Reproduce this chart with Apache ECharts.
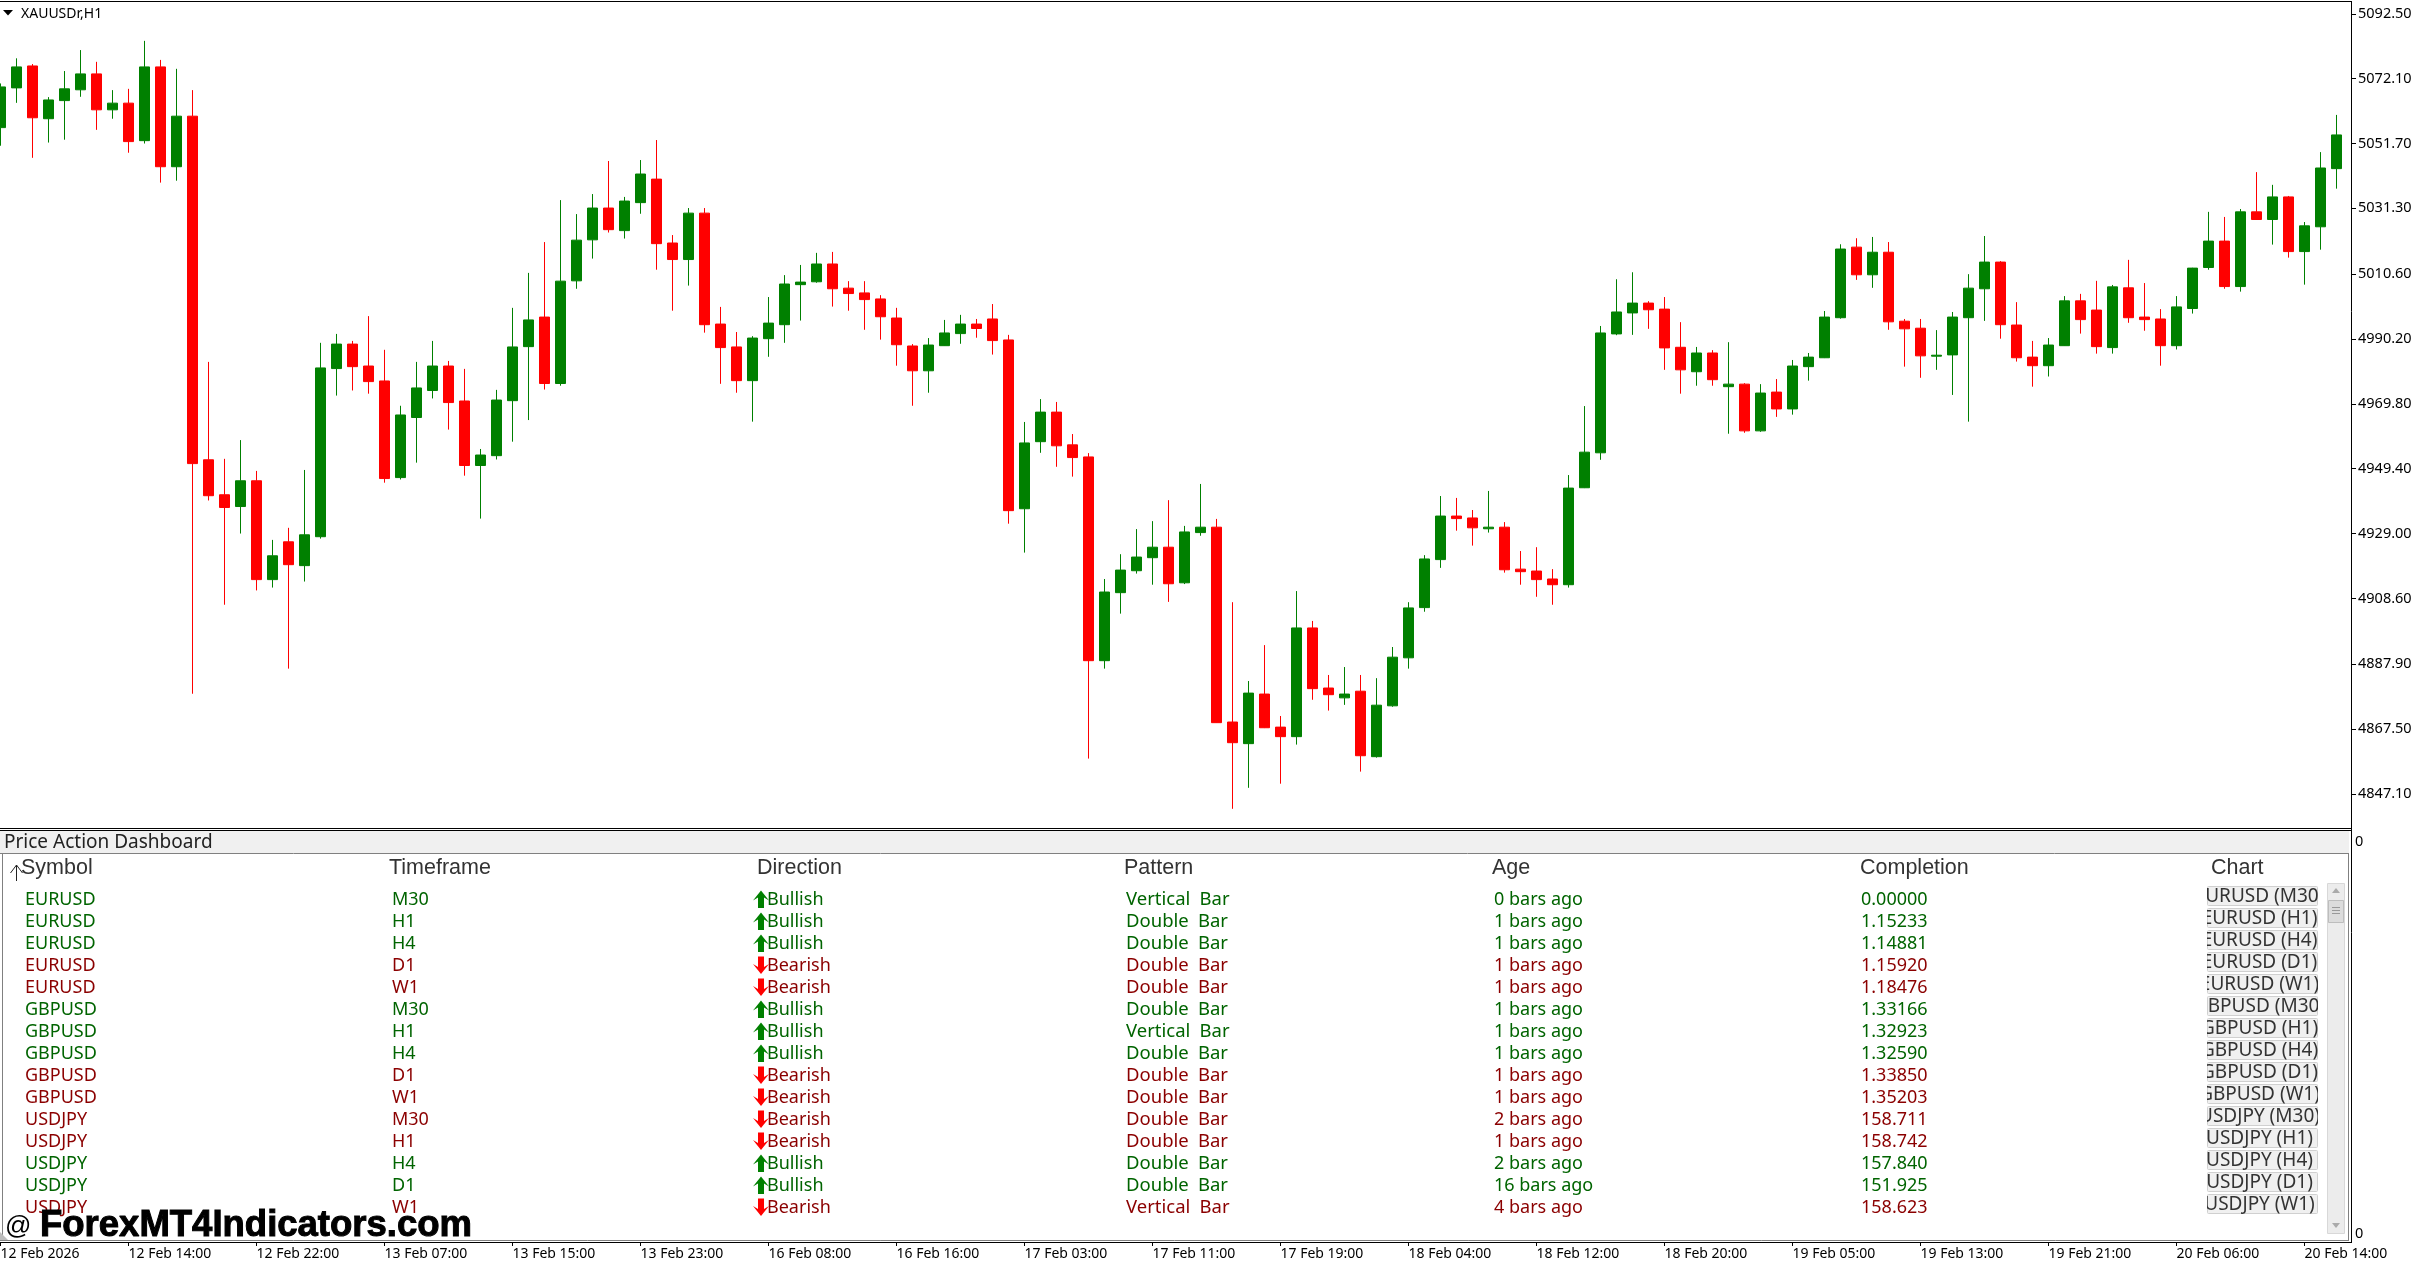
<!DOCTYPE html>
<html>
<head>
<meta charset="utf-8">
<title>XAUUSDr,H1</title>
<script src="https://cdn.jsdelivr.net/npm/echarts@6/dist/echarts.min.js"></script>
<style>html,body{margin:0;padding:0;background:#fff}#chart{width:2414px;height:1266px}</style>
</head>
<body>
<div id="chart"></div>
<script>
// XAUUSD hourly prices
const opens = [
5056.7,5069.2,5076.1,5059.5,5065.2,5068.6,5073.6,5062.3,5064.4,5052.6,
5075.8,5044.4,5060.3,4952.2,4941.2,4937.5,4945.6,4914.5,4926.4,4918.9,
4928.0,4980.9,4988.6,4981.7,4977.0,4946.6,4965.5,4974.0,4981.7,4970.7,
4950.4,4953.5,4970.8,4987.8,4997.1,4976.2,5008.5,5021.4,5031.4,5024.3,
5033.1,5040.5,5020.4,5015.2,5029.8,4994.9,4987.7,4977.1,4990.3,4994.7,
5007.3,5008.2,5013.8,5006.2,5004.7,5002.8,4996.8,4988.0,4980.2,4988.1,
4991.9,4994.9,4996.5,4989.9,4936.8,4957.9,4967.2,4956.9,4953.1,4889.0,
4910.4,4917.3,4921.4,4924.7,4913.5,4929.3,4931.0,4869.7,4862.9,4878.5,
4868.1,4865.1,4899.3,4880.4,4877.3,4879.4,4858.8,4874.8,4889.9,4905.7,
4920.8,4934.5,4933.9,4930.5,4931.0,4917.8,4917.2,4914.7,4912.9,4943.4,
4954.4,4991.8,4998.4,5001.5,4999.6,4987.6,4979.9,4985.8,4975.2,4976.0,
4961.3,4973.5,4968.2,4981.5,4984.3,4996.9,5019.1,5010.4,5017.5,4995.8,
4993.6,4984.8,4985.2,4996.9,5006.0,5014.4,4994.6,4984.5,4981.8,4988.1,
5002.2,4999.3,4987.5,5006.3,4997.1,4996.5,4988.1,4999.8,5012.7,5021.0,
5006.7,5030.2,5027.8,5034.9,5017.7,5025.5,5043.8];
const closes = [
5069.5,5075.8,5059.8,5065.4,5068.9,5073.6,5062.3,5064.4,5052.3,5075.8,
5044.4,5060.3,4951.0,4940.9,4937.2,4945.6,4914.5,4922.0,4919.2,4928.6,
4981.1,4988.6,4981.5,4976.8,4946.3,4966.3,4974.8,4981.7,4970.2,4950.4,
4953.7,4971.0,4987.7,4996.2,4976.2,5008.4,5021.3,5031.4,5024.6,5033.6,
5042.1,5020.2,5015.2,5029.8,4994.7,4987.5,4977.1,4990.5,4995.2,5007.5,
5008.1,5013.8,5006.0,5004.5,5002.6,4997.2,4988.4,4980.2,4988.3,4992.1,
4994.9,4993.5,4989.7,4936.2,4957.5,4967.2,4956.6,4952.9,4889.0,4910.6,
4917.5,4921.6,4924.7,4913.2,4929.5,4931.0,4869.5,4863.2,4878.8,4867.9,
4865.1,4899.3,4880.2,4878.3,4878.5,4859.1,4875.0,4890.1,4905.6,4921.0,
4934.5,4933.7,4930.8,4931.0,4917.6,4917.0,4914.5,4912.9,4943.3,4954.6,
4992.1,4998.7,5001.5,4999.4,4987.4,4980.5,4985.8,4977.4,4976.0,4961.3,
4973.2,4968.2,4981.7,4984.5,4997.1,5018.5,5010.4,5017.5,4995.6,4993.4,
4984.9,4985.1,4997.1,5006.2,5014.4,4994.7,4984.3,4981.8,4988.3,5002.2,
4996.3,4987.8,5006.6,4996.9,4996.3,4988.1,5000.3,5012.5,5021.0,5006.7,
5030.2,5027.8,5034.9,5017.7,5025.8,5044.0,5054.4];
const lows = [
5051.0,5064.5,5047.2,5052.0,5052.9,5066.4,5056.0,5059.5,5048.8,5051.7,
5039.4,5040.0,4878.6,4939.4,4906.6,4929.0,4911.1,4912.0,4886.5,4913.9,
4927.4,4972.4,4974.0,4973.0,4945.0,4946.0,4951.3,4971.5,4961.7,4947.2,
4933.7,4952.3,4957.9,4964.7,4974.3,4975.5,5006.0,5015.5,5023.7,5021.8,
5029.6,5012.0,4999.1,5007.0,4992.2,4976.1,4973.3,4964.2,4984.6,4989.0,
4996.0,5007.9,5000.4,4999.1,4993.1,4990.0,4981.8,4969.2,4973.3,4988.0,
4988.7,4990.6,4985.3,4932.1,4923.0,4954.4,4950.0,4946.9,4858.2,4886.5,
4903.8,4916.4,4912.9,4907.5,4913.1,4928.3,4869.4,4842.4,4849.0,4867.8,
4850.3,4862.6,4876.7,4873.3,4875.1,4854.1,4858.5,4874.5,4886.5,4904.4,
4918.2,4929.9,4925.2,4929.3,4916.7,4912.9,4909.1,4906.6,4912.0,4943.3,
4952.2,4991.4,4991.5,4993.4,4980.5,4973.0,4975.5,4975.5,4960.4,4960.7,
4961.0,4965.7,4966.4,4977.1,4984.2,4996.6,5008.8,5006.3,4993.1,4981.5,
4978.0,4980.5,4972.6,4964.2,4995.9,4990.3,4983.1,4975.2,4978.4,4988.0,
4991.9,4985.6,4985.6,4995.3,4992.8,4981.8,4986.9,4998.2,5012.0,5006.0,
5005.1,5027.7,5019.9,5015.8,5007.3,5018.3,5037.5];
const highs = [
5070.6,5078.5,5076.7,5066.3,5074.5,5081.1,5077.4,5068.5,5068.9,5084.0,
5078.0,5075.2,5068.5,4983.0,4952.5,4958.4,4948.7,4927.0,4930.8,4949.0,
4989.0,4991.8,4989.6,4997.4,4986.8,4969.2,4983.0,4989.6,4983.3,4980.8,
4955.6,4974.2,5000.0,5011.0,5020.7,5033.9,5029.5,5035.8,5046.2,5034.9,
5046.5,5052.8,5022.9,5031.4,5031.4,5000.3,4992.4,4991.1,5003.4,5010.3,
5013.5,5017.3,5017.6,5008.4,5008.4,5004.0,5000.0,4988.6,4990.5,4996.2,
4997.8,4996.5,5001.2,4991.5,4964.1,4971.3,4970.4,4960.3,4954.3,4914.7,
4922.5,4930.4,4932.9,4939.5,4931.4,4944.6,4933.6,4907.4,4882.6,4893.9,
4871.6,4910.9,4901.5,4884.5,4887.0,4884.5,4883.5,4893.3,4907.4,4922.2,
4940.8,4940.2,4936.4,4942.4,4932.6,4923.5,4924.7,4917.8,4947.4,4969.1,
4994.3,5009.0,5011.2,5002.1,5003.4,4995.5,4987.7,4986.7,4989.2,4976.3,
4976.0,4977.6,4983.6,4985.8,4999.0,5020.0,5021.9,5022.3,5020.7,4996.5,
4996.5,4993.0,4998.7,5010.6,5022.6,5014.7,5001.8,4989.6,4990.5,5003.7,
5004.4,5008.5,5007.2,5015.1,5007.8,4999.6,5003.7,5012.6,5030.2,5028.6,
5031.1,5042.7,5038.7,5035.2,5027.0,5049.0,5060.7];

// Axis labels: one time label every eighth bar
const timeLabels = ['12 Feb 2026','12 Feb 14:00','12 Feb 22:00','13 Feb 07:00','13 Feb 15:00','13 Feb 23:00','16 Feb 08:00','16 Feb 16:00','17 Feb 03:00','17 Feb 11:00','17 Feb 19:00','18 Feb 04:00','18 Feb 12:00','18 Feb 20:00','19 Feb 05:00','19 Feb 13:00','19 Feb 21:00','20 Feb 06:00','20 Feb 14:00'];
const priceTicks = [5092.5,5072.1,5051.7,5031.3,5010.6,4990.2,4969.8,4949.4,4929.0,4908.6,4887.9,4867.5,4847.1];

// Dashboard table columns
const headers = ['Symbol','Timeframe','Direction','Pattern','Age','Completion','Chart'];
const symbols = ['EURUSD','EURUSD','EURUSD','EURUSD','EURUSD','GBPUSD','GBPUSD','GBPUSD','GBPUSD','GBPUSD','USDJPY','USDJPY','USDJPY','USDJPY','USDJPY'];
const timeframes = ['M30','H1','H4','D1','W1','M30','H1','H4','D1','W1','M30','H1','H4','D1','W1'];
const directions = ['Bullish','Bullish','Bullish','Bearish','Bearish','Bullish','Bullish','Bullish','Bearish','Bearish','Bearish','Bearish','Bullish','Bullish','Bearish'];
const patterns = ['Vertical Bar','Double Bar','Double Bar','Double Bar','Double Bar','Double Bar','Vertical Bar','Double Bar','Double Bar','Double Bar','Double Bar','Double Bar','Double Bar','Double Bar','Vertical Bar'];
const ages = ['0 bars ago','1 bars ago','1 bars ago','1 bars ago','1 bars ago','1 bars ago','1 bars ago','1 bars ago','1 bars ago','1 bars ago','2 bars ago','1 bars ago','2 bars ago','16 bars ago','4 bars ago'];
const completions = ['0.00000','1.15233','1.14881','1.15920','1.18476','1.33166','1.32923','1.32590','1.33850','1.35203','158.711','158.742','157.840','151.925','158.623'];

const BAR_STEP = 16, PLOT_TOP = 1.5, PLOT_BOTTOM = 828.5, AXIS_X = 2352, TIME_AXIS_Y = 1242;
const FIRST_BAR_X = 0.5;
const categories = opens.map((_, i) => i % 8 === 0 ? timeLabels[i / 8] : '');
const ohlc = opens.map((o, i) => [o, closes[i], lows[i], highs[i]]);

const ROW_FONT = '18px "Noto Sans"';
const PATTERN_FONT = '18.5px "Noto Sans"';
const BUTTON_FONT = '19px "Noto Sans"';
const HEAD_FONT = '21.5px "Liberation Sans"';
const GREEN = '#006400', DARK_RED = '#8B0000';

const txt = (x, y, text, font, fill, extra) => ({
  type: 'text', x, y, silent: true,
  style: Object.assign({text, font, fill, textAlign: 'left', textVerticalAlign: 'middle'}, extra || {})
});
const rect = (x, y, width, height, fill, stroke, r) => ({
  type: 'rect', silent: true, shape: {x, y, width, height, r: r || 0},
  style: {fill, stroke: stroke || null, lineWidth: stroke ? 1 : 0}
});
const line = (x1, y1, x2, y2, stroke) => ({
  type: 'line', silent: true, shape: {x1, y1, x2, y2}, style: {stroke, lineWidth: 1}
});
const poly = (points, fill) => ({type: 'polygon', silent: true, shape: {points}, style: {fill}});

const els = [];
// Panel frame, title strip and table area
els.push(rect(0, 831, 2349, 22, '#F0F0F0'));
els.push(line(0, 1.5, AXIS_X, 1.5, '#000'));
els.push(line(0, 828.5, AXIS_X, 828.5, '#000'));
els.push(line(0, 830.5, AXIS_X, 830.5, '#000'));
els.push(line(0, 853.5, 2348, 853.5, '#808080'));
els.push(line(2.5, 853, 2.5, 1240, '#808080'));
els.push(line(2348.5, 853, 2348.5, 1240, '#808080'));
els.push(line(0, 1240.5, 2349, 1240.5, '#808080'));
els.push(line(0, TIME_AXIS_Y + 0.5, AXIS_X, TIME_AXIS_Y + 0.5, '#000'));
els.push(line(AXIS_X - 0.5, 1, AXIS_X - 0.5, TIME_AXIS_Y + 1, '#000'));
els.push(poly([[0, 1240], [8, 1240], [0, 1232]], '#BDBDBD'));

// Symbol caption and indicator pane scale
els.push(poly([[3, 10], [13, 10], [8, 15.5]], '#000'));
els.push(txt(21, 14, 'XAUUSDr,H1', '14px "Noto Sans"', '#000'));
els.push(txt(2355, 842, '0', '14.5px "Noto Sans"', '#000'));
els.push(txt(2355, 1234, '0', '14.5px "Noto Sans"', '#000'));
els.push(txt(4, 843, 'Price Action Dashboard', '19px "Noto Sans"', '#222'));

// Table header with the sort marker
const headX = [21, 389, 757, 1124, 1492, 1860, 2211];
headers.forEach((h, i) => els.push(txt(headX[i], 868.5, h, HEAD_FONT, '#333')));
els.push(line(16.5, 865, 16.5, 881, '#222'));
els.push(line(16.5, 865, 10.5, 873, '#222'));
els.push(line(16.5, 865, 22.5, 873, '#222'));

// Table rows; direction picks colour and arrow
const ROW0 = 900, ROW_H = 22;
symbols.forEach((s, i) => {
  const y = ROW0 + i * ROW_H;
  const up = directions[i] === 'Bullish';
  const c = up ? GREEN : DARK_RED;
  els.push(txt(25, y, s, ROW_FONT, c));
  els.push(txt(392, y, timeframes[i], ROW_FONT, c));
  els.push(txt(767, y, directions[i], ROW_FONT, c));
  els.push(txt(1126, y, patterns[i].replace(' ', '\u2002'), PATTERN_FONT, c));
  els.push(txt(1494, y, ages[i], ROW_FONT, c));
  els.push(txt(1861, y, completions[i], ROW_FONT, c));
  const ax = 753, t = y - 9.5, b = y + 8;
  els.push(up
    ? poly([[ax + 8, t], [ax + 16, t + 10], [ax + 11, t + 7], [ax + 11, b], [ax + 5, b], [ax + 5, t + 7], [ax, t + 10]], '#008000')
    : poly([[ax + 8, b], [ax + 16, b - 10], [ax + 11, b - 7], [ax + 11, t], [ax + 5, t], [ax + 5, b - 7], [ax, b - 10]], '#FF0000'));
});

// Chart buttons: labels are wider than the button and get clipped at its edges
symbols.forEach((s, i) => {
  const y = 886 + i * ROW_H;
  els.push(rect(2207.5, y + 0.5, 110, 19, '#F0F0F0', '#D0D0D0', 1));
  els.push(txt(2259.5, y + 11, s + ' (' + timeframes[i] + ')', BUTTON_FONT, '#333', {textAlign: 'center'}));
});
els.push(rect(2190, 884, 17, 345, '#fff'));
els.push(rect(2318, 884, 9, 345, '#fff'));

// Table scrollbar
els.push(rect(2327.5, 883.5, 17, 350, '#ECECEC', '#D8D8D8'));
els.push(rect(2328.5, 900.5, 15, 22, '#DCDCDC', '#BDBDBD'));
[907.5, 910.5, 913.5].forEach(y => els.push(line(2332, y, 2340, y, '#999')));
els.push(poly([[2336, 888], [2332, 893], [2340, 893]], '#AAA'));
els.push(poly([[2336, 1228], [2332, 1223], [2340, 1223]], '#AAA'));

// Site mark across the table foot
els.push(txt(5, 1227, '@', '26px "Liberation Sans"', '#000'));
els.push(txt(40, 1226, 'ForexMT4Indicators.com', 'bold 36.5px "Liberation Sans"', '#000', {stroke: '#000', lineWidth: 1}));

const chart = echarts.init(document.getElementById('chart'), null, {renderer: 'canvas'});
chart.setOption({
  animation: false,
  backgroundColor: '#fff',
  grid: {outerBoundsMode: 'none', left: FIRST_BAR_X, top: PLOT_TOP, width: BAR_STEP * (opens.length - 1), height: PLOT_BOTTOM - PLOT_TOP},
  xAxis: {
    type: 'category', data: categories, boundaryGap: false, position: 'bottom', offset: TIME_AXIS_Y - PLOT_BOTTOM,
    axisLine: {show: false},
    axisTick: {show: true, interval: 7, length: 4, lineStyle: {color: '#000'}},
    axisLabel: {interval: 7, align: 'left', margin: 5, hideOverlap: false, fontFamily: 'Noto Sans', fontSize: 14, color: '#000'},
    splitLine: {show: false}
  },
  yAxis: {
    type: 'value', position: 'right', offset: AXIS_X - (FIRST_BAR_X + BAR_STEP * (opens.length - 1)),
    min: 5096.85 - 0.3146 * PLOT_BOTTOM, max: 5096.85 - 0.3146 * PLOT_TOP,
    axisLine: {show: false},
    axisTick: {show: true, length: 4, customValues: priceTicks, lineStyle: {color: '#000'}},
    axisLabel: {customValues: priceTicks, margin: 6, padding: [4, 0, 0, 0], formatter: v => v.toFixed(2), fontFamily: 'Noto Sans', fontSize: 14.5, color: '#000'},
    splitLine: {show: false}
  },
  series: [{
    type: 'candlestick', data: ohlc, barWidth: 10, clip: false,
    itemStyle: {color: '#008000', color0: '#FF0000', borderColor: '#008000', borderColor0: '#FF0000', borderWidth: 1}
  }],
  graphic: {elements: els}
});
</script>
</body>
</html>
